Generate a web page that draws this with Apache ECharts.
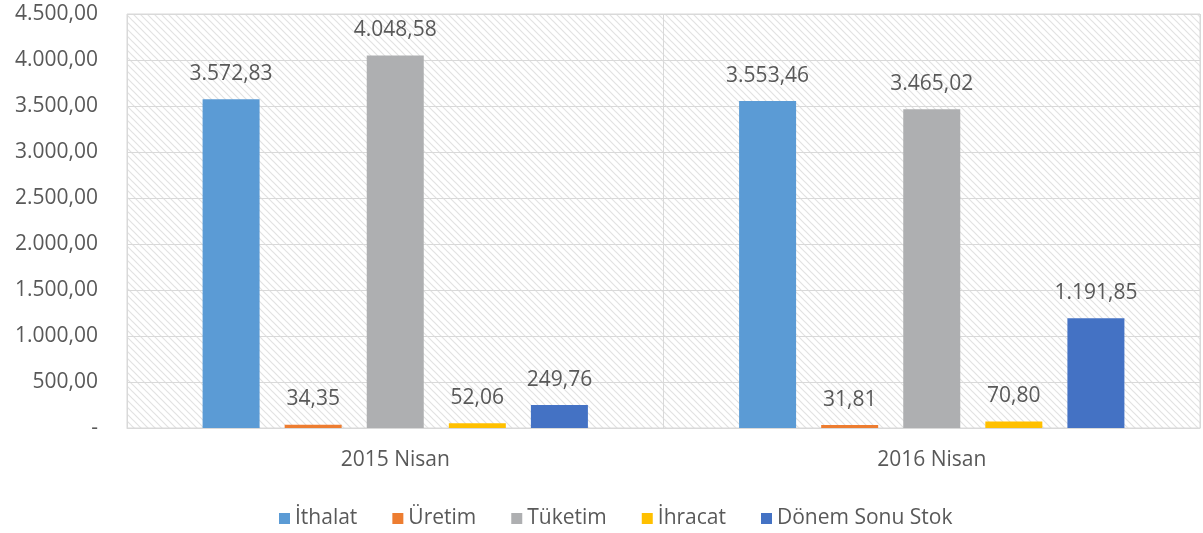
<!DOCTYPE html>
<html>
<head>
    <meta charset="utf-8">
    <title>Nisan karşılaştırma</title>
    <script src="https://cdn.jsdelivr.net/npm/echarts@6/dist/echarts.min.js"></script>
    <style>
        html, body { margin: 0; padding: 0; background: #fff; }
        #main { width: 1203px; height: 533px; }
    </style>
</head>
<body>
<div id="main"></div>
<script type="text/javascript">
    var categories = ['2015 Nisan', '2016 Nisan'];
    var seriesNames = ['İthalat', 'Üretim', 'Tüketim', 'İhracat', 'Dönem Sonu Stok'];
    var ithalat = [3572.83, 3553.46];
    var uretim = [34.35, 31.81];
    var tuketim = [4048.58, 3465.02];
    var ihracat = [52.06, 70.80];
    var stok = [249.76, 1191.85];
    var colors = ['#5b9bd5', '#ed7d31', '#aeafb1', '#ffc000', '#4472c4'];

    // tr sayı biçimi: 4.500,00
    function trFormat(v) {
        if (v === 0) return '-';
        var parts = v.toFixed(2).split('.');
        parts[0] = parts[0].replace(/\B(?=(\d{3})+(?!\d))/g, '.');
        return parts[0] + ',' + parts[1];
    }

    // çizgili arka plan
    var hatch = document.createElement('canvas');
    hatch.width = 7; hatch.height = 7;
    var hc = hatch.getContext('2d');
    hc.fillStyle = '#ffffff';
    hc.fillRect(0, 0, 7, 7);
    hc.strokeStyle = '#e2e2e2';
    hc.lineWidth = 1.2;
    hc.beginPath();
    hc.moveTo(0, 0); hc.lineTo(7, 7);
    hc.moveTo(-3.5, 3.5); hc.lineTo(3.5, 10.5);
    hc.moveTo(3.5, -3.5); hc.lineTo(10.5, 3.5);
    hc.stroke();

    var allData = [ithalat, uretim, tuketim, ihracat, stok];
    var series = [];
    for (var i = 0; i < seriesNames.length; i++) {
        series.push({
            name: seriesNames[i],
            type: 'bar',
            data: allData[i],
            barWidth: 57,
            barGap: '44%',
            itemStyle: { color: colors[i] },
            label: {
                show: true,
                position: 'top',
                distance: 15,
                color: '#595959',
                fontSize: 21,
                fontFamily: 'Open Sans',
                formatter: function (p) { return trFormat(p.value); }
            }
        });
    }

    var myChart = echarts.init(document.getElementById('main'));
    var option = {
        animation: false,
        color: colors,
        grid: {
            left: 127, right: 3, top: 14, bottom: 105,
            show: true,
            backgroundColor: { image: hatch, repeat: 'repeat' },
            borderColor: '#d9d9d9',
            borderWidth: 1,
            containLabel: false
        },
        legend: {
            top: 503,
            left: 274,
            itemWidth: 11,
            itemHeight: 11,
            itemGap: 35,
            icon: 'rect',
            textStyle: { color: '#595959', fontSize: 21, fontFamily: 'Open Sans' },
            data: seriesNames
        },
        xAxis: {
            type: 'category',
            data: categories,
            axisTick: { show: false },
            axisLine: { lineStyle: { color: '#d9d9d9' } },
            splitLine: { show: true, lineStyle: { color: '#d9d9d9' } },
            axisLabel: { color: '#595959', fontSize: 21, fontFamily: 'Open Sans', margin: 22 }
        },
        yAxis: {
            type: 'value',
            min: 0,
            max: 4500,
            interval: 500,
            axisLine: { show: false },
            axisTick: { show: false },
            splitLine: { lineStyle: { color: '#d9d9d9' } },
            axisLabel: {
                color: '#595959', fontSize: 21, fontFamily: 'Open Sans', margin: 29,
                formatter: function (v) { return trFormat(v); }
            }
        },
        series: series
    };
    myChart.setOption(option);
</script>
</body>
</html>
